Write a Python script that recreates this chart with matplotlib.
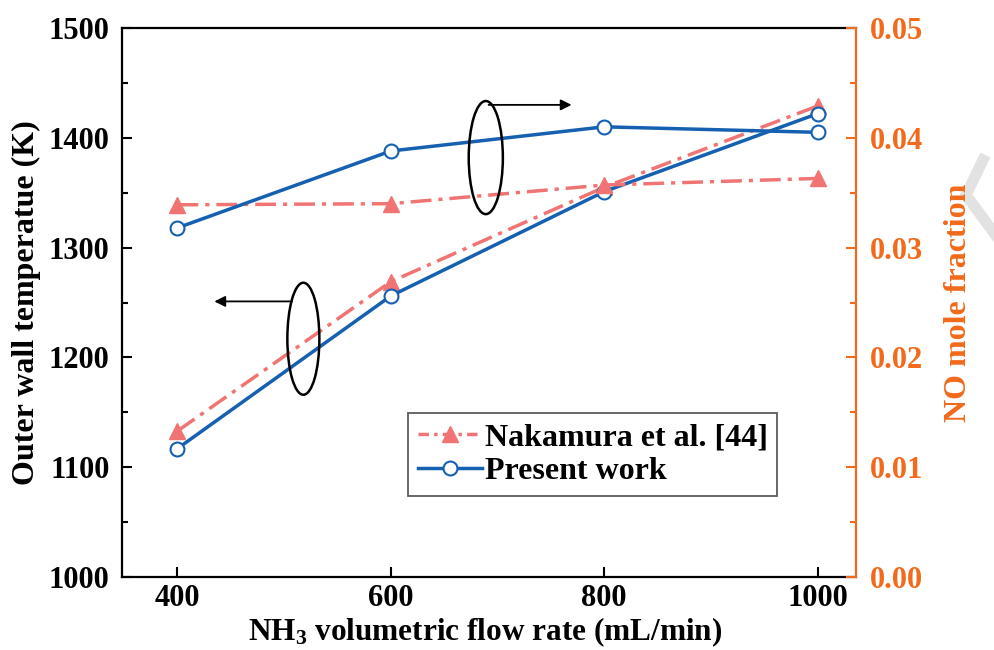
import matplotlib
matplotlib.use("Agg")
import matplotlib.pyplot as plt
from matplotlib.patches import Ellipse
from matplotlib.ticker import AutoMinorLocator, MultipleLocator
from matplotlib.lines import Line2D

plt.rcParams['font.family'] = ['Liberation Serif', 'DejaVu Serif']
plt.rcParams['font.weight'] = 'bold'
plt.rcParams['mathtext.fontset'] = 'custom'
plt.rcParams['mathtext.rm'] = 'Liberation Serif:bold'
plt.rcParams['mathtext.bf'] = 'Liberation Serif:bold'
plt.rcParams['mathtext.default'] = 'bf'

# data
flow = [400, 600, 800, 1000]
temp_nakamura = [1133, 1269, 1355, 1429]
temp_present = [1117, 1256, 1351, 1422]
no_nakamura = [0.0339, 0.0340, 0.0357, 0.0363]
no_present = [0.0318, 0.0388, 0.0410, 0.0405]

blue = '#1560b0'
pink = '#f07474'
orange = '#f26a1b'

fig = plt.figure(figsize=(9.95, 6.5), dpi=100)
ax = fig.add_axes([0.1226, 0.1123, 0.7377, 0.8446])
ax2 = ax.twinx()

# temperature (left axis)
ax.plot(flow, temp_nakamura, color=pink, lw=2.5, ls=(0, (6, 2, 1.2, 2)),
        marker='^', ms=11, mfc=pink, mec=pink, zorder=3)
ax.plot(flow, temp_present, color=blue, lw=2.5, marker='o', ms=10,
        mfc='white', mec=blue, mew=1.5, zorder=4)

# NO mole fraction (right axis)
ax2.plot(flow, no_nakamura, color=pink, lw=2.5, ls=(0, (6, 2, 1.2, 2)),
         marker='^', ms=11, mfc=pink, mec=pink, zorder=3)
ax2.plot(flow, no_present, color=blue, lw=2.5, marker='o', ms=10,
         mfc='white', mec=blue, mew=1.5, zorder=4)

ax.set_xlim(348, 1036)
ax.set_ylim(1000, 1500)
ax2.set_ylim(0, 0.05)
ax.xaxis.set_major_locator(MultipleLocator(200))
ax.yaxis.set_major_locator(MultipleLocator(100))
ax.yaxis.set_minor_locator(AutoMinorLocator(2))
ax2.yaxis.set_major_locator(MultipleLocator(0.01))
ax2.yaxis.set_minor_locator(AutoMinorLocator(2))
ax2.yaxis.set_major_formatter(plt.FormatStrFormatter('%.2f'))

for s in ['left', 'bottom', 'top']:
    ax.spines[s].set_linewidth(1.6)
ax.spines['right'].set_visible(False)
for s in ['left', 'bottom', 'top']:
    ax2.spines[s].set_visible(False)
ax2.spines['right'].set_color(orange)
ax2.spines['right'].set_linewidth(1.6)

ax.tick_params(axis='y', which='major', direction='in', length=7, width=1.5,
               labelsize=22, pad=9)
ax.tick_params(axis='x', which='major', direction='in', length=7, width=1.5,
               labelsize=22, pad=5)
ax.tick_params(axis='y', which='minor', direction='in', length=4, width=1.5)
ax.tick_params(axis='x', which='both', top=False)
ax.tick_params(axis='y', which='both', right=False)
ax2.tick_params(axis='y', which='major', direction='in', length=7, width=1.5,
                color=orange, labelcolor=orange, labelsize=22, pad=10)
ax2.tick_params(axis='y', which='minor', direction='in', length=4, width=1.5,
                color=orange)

ax.set_xlabel('NH$_3$ volumetric flow rate (mL/min)', fontsize=22.5, fontweight='bold')
ax.set_ylabel('Outer wall temperatue (K)', fontsize=23, fontweight='bold')
ax2.set_ylabel('NO mole fraction', fontsize=23, fontweight='bold', color=orange)
ax.xaxis.set_label_coords(0.495, -0.07)
ax.yaxis.set_label_coords(-0.11, 0.5)
ax2.yaxis.set_label_coords(1.12, 0.5)

# ellipses and arrows
ax2.add_patch(Ellipse((689, 0.0382), 32, 0.0103, fill=False, ec='black', lw=1.8, zorder=5))
ax2.annotate('', xy=(772, 0.0430), xytext=(689, 0.0430),
             arrowprops=dict(arrowstyle='-|>', color='black', lw=1.3, mutation_scale=16))
ax.add_patch(Ellipse((518, 1217), 30, 102, fill=False, ec='black', lw=1.8, zorder=5))
ax.annotate('', xy=(432, 1251), xytext=(510, 1251),
            arrowprops=dict(arrowstyle='-|>', color='black', lw=1.3, mutation_scale=16))

handles = [Line2D([], [], color=pink, lw=2.5, ls=(0, (3, 1.5, 1, 1.5)), marker='^', ms=11,
                  mfc=pink, mec=pink),
           Line2D([], [], color=blue, lw=2.5, marker='o', ms=10, mfc='white', mec=blue, mew=1.5)]
leg = ax2.legend(handles, ['Nakamura et al. [44]', 'Present work'], loc='lower right',
                 bbox_to_anchor=(0.893, 0.148), fontsize=23, frameon=True, fancybox=False,
                 edgecolor='#333333', handlelength=2.0, handletextpad=0.1,
                 borderpad=0.3, labelspacing=0.15, borderaxespad=0)
leg.get_frame().set_linewidth(1.3)

# watermark stroke on the right edge
fig.add_artist(Line2D([983 / 995, 966 / 995, 997 / 995],
                      [1 - 160 / 650, 1 - 195 / 650, 1 - 237 / 650],
                      color='#e2e2e2', lw=8, zorder=0, solid_joinstyle='miter'))

fig.savefig('out.png', dpi=100)
